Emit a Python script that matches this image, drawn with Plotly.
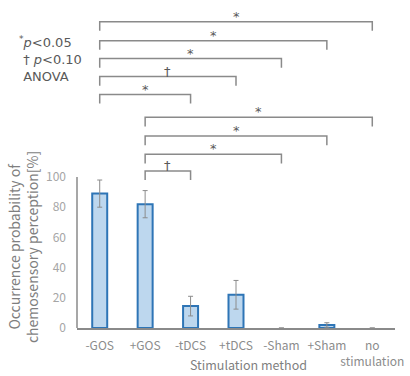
import plotly.graph_objects as go

categories = ["-GOS", "+GOS", "-tDCS", "+tDCS", "-Sham", "+Sham", "no<br>stimulation"]
means = [89, 82, 14.5, 22, 0, 2, 0]
errors = [9, 9, 6.5, 9.5, 0, 1.5, 0]
y_ticks = [0, 20, 40, 60, 80, 100]

# comparisons: (from index, to index, symbol, bracket height in % units)
comparisons = [
    (0, 6, "*", 202.8),
    (0, 5, "*", 190.3),
    (0, 4, "*", 178.4),
    (0, 3, "†", 166.5),
    (0, 2, "*", 154.6),
    (1, 6, "*", 139.5),
    (1, 5, "*", 127.1),
    (1, 4, "*", 115.0),
    (1, 2, "†", 104.0),
]
legend_lines = ["<sup>*</sup><i>p</i>&lt;0.05", " † <i>p</i>&lt;0.10", " ANOVA"]
y_title = "Occurrence probability of<br>chemosensory perception[%]"
x_title = "Stimulation method"

FONT = "Noto Sans CJK JP"
SYMFONT = "DejaVu Sans"
n = len(categories)
YMAX = 100.0

def xp(i):
    return (i + 0.5) / n

def yp(v):
    return v / YMAX

fig = go.Figure()
fig.add_trace(go.Bar(
    x=list(range(n)), y=means,
    marker=dict(color="#BDD7EE",
                line=dict(color="#2E75B6", width=[2 if m > 0 else 0 for m in means])),
    error_y=dict(type="data", array=errors, color="#8c8c8c", thickness=1, width=2.5),
    hoverinfo="skip",
))

shapes = []
annotations = []
drop = 6
for a, b, sym, lvl in comparisons:
    shapes.append(dict(type="path", xref="paper", yref="paper",
                       path=f"M {xp(a)} {yp(lvl - drop)} L {xp(a)} {yp(lvl)} L {xp(b)} {yp(lvl)} L {xp(b)} {yp(lvl - drop)}",
                       line=dict(color="#8a8a8a", width=1.5)))
    annotations.append(dict(xref="paper", yref="paper", x=(xp(a) + xp(b)) / 2, y=yp(lvl),
                            text=sym, showarrow=False, xanchor="center", yanchor="bottom",
                            yshift=-4, font=dict(family=SYMFONT, size=13, color="#595959")))

# y axis line only from 0 to 100
shapes.append(dict(type="line", xref="paper", yref="paper", x0=0, x1=0, y0=0, y1=1,
                   line=dict(color="#8a8a8a", width=1.5)))

# significance legend (single text block)
annotations.append(dict(xref="paper", yref="paper", x=(17 - 77) / 318, y=(328.3 - 58.5) / 151.6,
                        text="<br>".join(legend_lines), showarrow=False, align="left",
                        xanchor="left", yanchor="middle",
                        font=dict(family=SYMFONT, size=13, color="#595959")))

# y-axis title
annotations.append(dict(xref="paper", yref="paper", x=(23 - 77) / 318, y=(328.3 - 247) / 151.6,
                        text=y_title, showarrow=False, textangle=-90,
                        xanchor="center", yanchor="middle",
                        font=dict(family=FONT, size=14, color="#7f7f7f")))

# x-axis title
annotations.append(dict(xref="paper", yref="paper", x=(248 - 77) / 318, y=(328.3 - 365) / 151.6,
                        text=x_title, showarrow=False,
                        xanchor="center", yanchor="middle",
                        font=dict(family=FONT, size=12.5, color="#7f7f7f")))

fig.update_layout(
    width=410, height=376,
    margin=dict(l=77, r=15, t=176.7, b=47.7),
    paper_bgcolor="white", plot_bgcolor="white",
    showlegend=False,
    bargap=0.67,
    font=dict(family=FONT, color="#8c8c8c"),
    shapes=shapes,
    annotations=annotations,
    xaxis=dict(
        range=[-0.5, n - 0.5], automargin=False,
        tickmode="array", tickvals=list(range(n)), ticktext=categories, tickangle=0,
        showline=True, linecolor="#8a8a8a", linewidth=1.5,
        showgrid=False, zeroline=False, ticks="",
        tickfont=dict(family=FONT, size=12, color="#8c8c8c"),
        ticklabelstandoff=6,
    ),
    yaxis=dict(
        range=[0, YMAX], automargin=False,
        tickmode="array", tickvals=y_ticks,
        showline=False, showgrid=False, zeroline=False, ticks="",
        tickfont=dict(family=FONT, size=12, color="#a6a6a6"),
        ticklabelstandoff=10,
    ),
)

fig.write_html("out.html", post_script="document.body.style.margin='0';",
               config={"displayModeBar": False})
